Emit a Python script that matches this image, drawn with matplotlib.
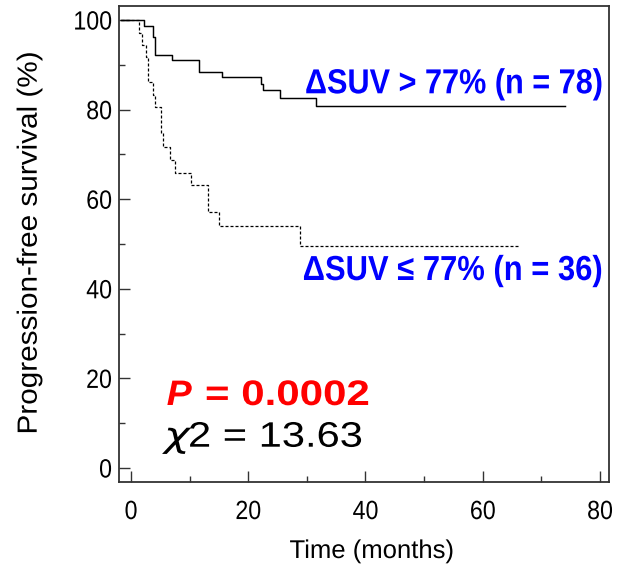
import matplotlib
matplotlib.use("Agg")
import matplotlib.pyplot as plt
from matplotlib.patheffects import AbstractPathEffect
from matplotlib.transforms import Affine2D
from matplotlib.ticker import FixedLocator

# ---------------- data ----------------
high_time = [-1.7, 2.3, 3.8, 4.1, 7.05, 11.65, 15.5, 22.2, 22.5, 25.5, 31.5, 74.0]
high_surv = [100, 98.7, 96.2, 92.3, 91.0, 88.4, 87.2, 85.7, 84.4, 82.6, 80.8, 80.8]
low_time = [-1.7, 1.36, 1.8, 2.5, 2.96, 3.7, 4.1, 5.1, 5.5, 6.65, 7.56, 10.3, 13.2, 15.06, 28.9, 66.0]
low_surv = [100, 97.2, 94.4, 91.7, 86.1, 83.3, 80.5, 74.8, 71.7, 68.7, 65.8, 63.1, 57.1, 54.0, 49.6, 49.6]
x_ticks = [0, 20, 40, 60, 80]
x_minor = [10, 30, 50, 70]
y_ticks = [0, 20, 40, 60, 80, 100]
y_minor = [10, 30, 50, 70, 90]
label_high = "ΔSUV > 77% (n = 78)"
label_low = "ΔSUV ≤ 77% (n = 36)"
p_label = "P"
p_value = "= 0.0002"
chi_symbol = "χ"
chi_value = "2 = 13.63"
x_title = "Time (months)"
y_title = "Progression-free survival (%)"

W, H = 617, 573
FONT = ["Liberation Sans", "DejaVu Sans"]


class Stretch(AbstractPathEffect):
    """Scale glyph outlines of a real Text artist."""

    def __init__(self, sx=1.0, sy=1.0, anchor="left", vanchor="center"):
        super().__init__()
        self.sx, self.sy, self.anchor, self.vanchor = sx, sy, anchor, vanchor

    def draw_path(self, renderer, gc, tpath, affine, rgbFace=None):
        ext = affine.transform_path(tpath).get_extents()
        m = affine.get_matrix()
        if self.anchor == "left":
            ax0 = m[0, 2]
        elif self.anchor == "right":
            ax0 = ext.x1
        else:
            ax0 = 0.5 * (ext.x0 + ext.x1)
        if self.vanchor == "baseline":
            ay0 = m[1, 2]
        else:
            ay0 = 0.5 * (ext.y0 + ext.y1)
        t = affine + Affine2D().translate(-ax0, -ay0).scale(self.sx, self.sy).translate(ax0, ay0)
        renderer.draw_path(gc, tpath, t, rgbFace)


def fx(px):
    return px / W


def fy(py):
    return 1 - py / H


fig = plt.figure(figsize=(W / 100, H / 100), dpi=100)
ax = fig.add_axes([fx(119), fy(482), (609 - 119) / W, (482 - 5.7) / H])

ax.plot(high_time, high_surv, drawstyle="steps-post", color="black", lw=1.05)
ax.plot(low_time, low_surv, drawstyle="steps-post", color="black", lw=0.9,
        linestyle=(0, (2.4, 1.6)))

ax.set_xlim(-2.05, 81.54)
ax.set_ylim(-3.125, 103.2)

ax.xaxis.set_major_locator(FixedLocator(x_ticks))
ax.xaxis.set_minor_locator(FixedLocator(x_minor))
ax.yaxis.set_major_locator(FixedLocator(y_ticks))
ax.yaxis.set_minor_locator(FixedLocator(y_minor))
ax.tick_params(which="both", direction="in", color="#333333", width=1.0)
ax.tick_params(which="major", length=8)
ax.tick_params(which="minor", length=4.5)
ax.tick_params(axis="x", which="major", pad=13)
ax.tick_params(axis="y", which="major", pad=5)
for s in ax.spines.values():
    s.set_color("#333333")
    s.set_linewidth(1.3)

for lbl in ax.get_xticklabels():
    lbl.set_fontfamily(FONT)
    lbl.set_fontsize(19)
    lbl.set_path_effects([Stretch(sx=0.88, anchor="center")])
for lbl in ax.get_yticklabels():
    lbl.set_fontfamily(FONT)
    lbl.set_fontsize(19)
    lbl.set_path_effects([Stretch(sx=0.88, anchor="right")])

# axis titles
tx = fig.text(fx(372), fy(558), x_title, ha="center", va="baseline",
              fontsize=18.5, family=FONT)
ty = fig.text(fx(36.7), fy(243), y_title, ha="center", va="baseline",
              rotation=90, rotation_mode="anchor", fontsize=20, family=FONT)

# annotations
t1 = fig.text(fx(305), fy(93.3), label_high, ha="left", va="baseline",
              fontsize=25, fontweight="bold", color="#0000FF", family=FONT)
t2 = fig.text(fx(302.7), fy(280), label_low, ha="left", va="baseline",
              fontsize=25, fontweight="bold", color="#0000FF", family=FONT)
t3 = fig.text(fx(166.7), fy(405), p_label, ha="left", va="baseline",
              fontsize=25.5, fontweight="bold", fontstyle="italic", color="#FF0000", family=FONT)
t4 = fig.text(fx(205), fy(405), p_value, ha="left", va="baseline",
              fontsize=25.5, fontweight="bold", color="#FF0000", family=FONT)
t5 = fig.text(fx(164), fy(446.7), chi_symbol, ha="left", va="baseline",
              fontsize=25, fontstyle="italic", color="black",
              family=["DejaVu Sans", "Liberation Sans"])
t6 = fig.text(fx(188), fy(446.7), chi_value, ha="left", va="baseline",
              fontsize=25.5, color="black", family=FONT)

fig.canvas.draw()
r = fig.canvas.get_renderer()

# texts that must be narrower than the font: shrink font, stretch height back
for t, target in [(t1, 298), (t2, 300)]:
    w = t.get_window_extent(r).width
    k = target / w
    t.set_fontsize(t.get_fontsize() * k)
    t.set_path_effects([Stretch(sy=1 / k, anchor="left", vanchor="baseline")])

# texts that are wider than the font: stretch horizontally
for t, target, anchor in [(t3, 25, "left"), (t4, 165, "left"), (t5, 26, "left"),
                          (t6, 175, "left"), (tx, 165, "center")]:
    w = t.get_window_extent(r).width
    t.set_path_effects([Stretch(sx=target / w, anchor=anchor, vanchor="baseline")])
h = ty.get_window_extent(r).height
ty.set_path_effects([Stretch(sy=383 / h, anchor="center")])

fig.savefig("out.png", dpi=100)
